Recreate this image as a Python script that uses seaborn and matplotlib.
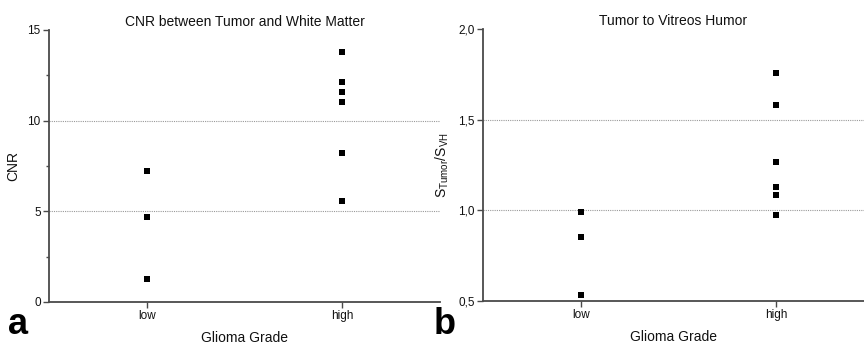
import matplotlib
matplotlib.use("Agg")
import matplotlib.pyplot as plt
import seaborn as sns
import pandas as pd
from matplotlib.ticker import FixedLocator, FuncFormatter

sns.set_theme(style="white")
plt.rcParams['font.family'] = ['Liberation Sans', 'DejaVu Sans']
plt.rcParams['text.color'] = '#111111'
plt.rcParams['axes.labelcolor'] = '#111111'
plt.rcParams['xtick.color'] = '#111111'
plt.rcParams['ytick.color'] = '#111111'

grades = ["low", "high"]
cnr_low = [7.25, 4.68, 1.29]
cnr_high = [13.78, 12.13, 11.56, 11.05, 8.22, 5.57]
ratio_low = [0.993, 0.852, 0.533]
ratio_high = [1.757, 1.580, 1.268, 1.128, 1.084, 0.973]

titles = ["CNR between Tumor and White Matter", "Tumor to Vitreos Humor"]
ylabels = ["CNR", r"$\mathregular{S_{Tumor}/S_{VH}}$"]
xlabel = "Glioma Grade"
panel_letters = ["a", "b"]

df1 = pd.DataFrame({"grade": ["low"] * len(cnr_low) + ["high"] * len(cnr_high),
                    "value": cnr_low + cnr_high})
df2 = pd.DataFrame({"grade": ["low"] * len(ratio_low) + ["high"] * len(ratio_high),
                    "value": ratio_low + ratio_high})

W, H = 864, 345
fig = plt.figure(figsize=(W / 100, H / 100), dpi=100)
ax1 = fig.add_axes([49 / W, (H - 302) / H, (440 - 49) / W, (302 - 30) / H])
ax2 = fig.add_axes([483 / W, (H - 301) / H, (864 - 483) / W, (301 - 29) / H])

spine_col = "#4a4a4a"
configs = [
    (ax1, df1, (0, 15), [0, 5, 10, 15], [2.5, 7.5, 12.5], lambda v, p: f"{v:.0f}", (-0.503, 1.5)),
    (ax2, df2, (0.5, 2.0), [0.5, 1.0, 1.5, 2.0], [], lambda v, p: f"{v:.1f}".replace(".", ","), (-0.503, 1.45)),
]

for i, (ax, df, ylim, major, minor, fmt, xlim) in enumerate(configs):
    sns.stripplot(data=df, x="grade", y="value", order=grades, jitter=False,
                  marker="s", color="black", size=4.2, linewidth=0, ax=ax, zorder=5)
    ax.set_ylim(*ylim)
    ax.set_xlim(*xlim)
    ax.yaxis.set_major_locator(FixedLocator(major))
    ax.yaxis.set_minor_locator(FixedLocator(minor))
    ax.yaxis.set_major_formatter(FuncFormatter(fmt))
    for v in major[1:-1]:
        ax.axhline(v, color="#999999", linestyle=(0, (1, 1)), linewidth=0.8, zorder=1)
    for s in ["top", "right"]:
        ax.spines[s].set_visible(False)
    for s in ["left", "bottom"]:
        ax.spines[s].set_color(spine_col)
        ax.spines[s].set_linewidth(1.3)
    ax.tick_params(axis="both", which="major", direction="out", length=4, width=1.0,
                   color=spine_col, labelsize=8.5, pad=2, left=True, bottom=True)
    ax.tick_params(axis="y", which="minor", direction="out", length=2, width=1.0,
                   color=spine_col, left=True)
    ax.set_title(titles[i], fontsize=10, pad=3)
    ax.set_ylabel(ylabels[i], fontsize=10, labelpad=5)
    ax.set_xlabel(xlabel, fontsize=10, labelpad=6)
    ax.set_facecolor("white")

fig.text(8 / W, 3 / H, panel_letters[0], fontsize=26, fontweight="bold", color="black",
         ha="left", va="bottom")
fig.text(434 / W, 3 / H, panel_letters[1], fontsize=26, fontweight="bold", color="black",
         ha="left", va="bottom")

fig.savefig("out.png", dpi=100, facecolor="white")
